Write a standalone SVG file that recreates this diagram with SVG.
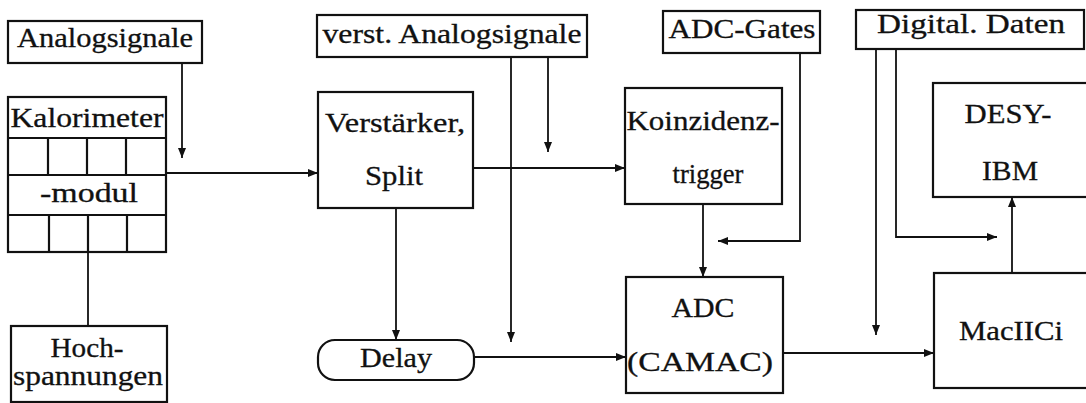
<svg xmlns="http://www.w3.org/2000/svg" width="1086" height="403" viewBox="0 0 1086 403">
<style>
.box{fill:#fff;stroke:#111;stroke-width:2.2}
.grid{fill:none;stroke:#111;stroke-width:2.2}
.c{fill:none;stroke:#111;stroke-width:1.8}
.t{font-family:"Liberation Serif","DejaVu Serif",serif;font-size:27px;fill:#111;text-anchor:middle;stroke:#111;stroke-width:0.3}
</style>
<defs>
<marker id="ah" markerUnits="userSpaceOnUse" markerWidth="12" markerHeight="9" refX="10" refY="4" orient="auto">
<path d="M0,0 L10,4 L0,8 z" fill="#111"/>
</marker>
</defs>
<rect width="1086" height="403" fill="#fff"/>
<g id="connectors">
<path class="c" d="M182,63 V158" marker-end="url(#ah)"/>
<path class="c" d="M166,173 H318" marker-end="url(#ah)"/>
<path class="c" d="M88,252 V326"/>
<path class="c" d="M511,57 V342" marker-end="url(#ah)"/>
<path class="c" d="M548,57 V152" marker-end="url(#ah)"/>
<path class="c" d="M473,168 H625" marker-end="url(#ah)"/>
<path class="c" d="M396,208 V340" marker-end="url(#ah)"/>
<path class="c" d="M474,357 H626" marker-end="url(#ah)"/>
<path class="c" d="M800,53 V241 H718" marker-end="url(#ah)"/>
<path class="c" d="M703,204 V277" marker-end="url(#ah)"/>
<path class="c" d="M783,353 H934" marker-end="url(#ah)"/>
<path class="c" d="M876,49 V335" marker-end="url(#ah)"/>
<path class="c" d="M896,49 V237 H997" marker-end="url(#ah)"/>
<path class="c" d="M1012,273 V197" marker-end="url(#ah)"/>
</g>
<g id="analogsignale">
<rect class="box" x="8" y="21" width="194" height="42"/>
<text class="t" x="105" y="47" textLength="176" lengthAdjust="spacingAndGlyphs">Analogsignale</text>
</g>
<g id="kalorimeter">
<rect class="box" x="8" y="97" width="158" height="155"/>
<path class="grid" d="M8,138 H166 M8,175 H166 M8,215 H166 M48,138 V175 M87,138 V175 M126,138 V175 M49,215 V252 M88,215 V252 M127,215 V252"/>
<text class="t" x="87" y="127" textLength="153" lengthAdjust="spacingAndGlyphs">Kalorimeter</text>
<text class="t" x="89" y="202" textLength="98" lengthAdjust="spacingAndGlyphs">-modul</text>
</g>
<g id="hochspannungen">
<rect class="box" x="11" y="326" width="156" height="76"/>
<text class="t" x="87" y="357" textLength="73" lengthAdjust="spacingAndGlyphs">Hoch-</text>
<text class="t" x="88" y="385" textLength="150" lengthAdjust="spacingAndGlyphs">spannungen</text>
</g>
<g id="verst-analogsignale">
<rect class="box" x="317" y="15" width="270" height="42"/>
<text class="t" x="452" y="43" textLength="259" lengthAdjust="spacingAndGlyphs">verst. Analogsignale</text>
</g>
<g id="verstaerker">
<rect class="box" x="318" y="92" width="155" height="116"/>
<text class="t" x="395" y="132" textLength="140" lengthAdjust="spacingAndGlyphs">Verstärker,</text>
<text class="t" x="394" y="185" textLength="58" lengthAdjust="spacingAndGlyphs">Split</text>
</g>
<g id="delay">
<rect class="box" x="318" y="340" width="156" height="40" rx="17" ry="17"/>
<text class="t" x="396" y="367" textLength="72" lengthAdjust="spacingAndGlyphs">Delay</text>
</g>
<g id="adc-gates">
<rect class="box" x="663" y="11" width="157" height="42"/>
<text class="t" x="742" y="38" textLength="147" lengthAdjust="spacingAndGlyphs">ADC-Gates</text>
</g>
<g id="koinzidenztrigger">
<rect class="box" x="625" y="88" width="157" height="116"/>
<text class="t" x="703" y="130" textLength="153" lengthAdjust="spacingAndGlyphs">Koinzidenz-</text>
<text class="t" x="708" y="183" textLength="71" lengthAdjust="spacingAndGlyphs">trigger</text>
</g>
<g id="adc-camac">
<rect class="box" x="626" y="277" width="157" height="116"/>
<text class="t" x="703" y="317" textLength="63" lengthAdjust="spacingAndGlyphs">ADC</text>
<text class="t" x="700" y="371" textLength="146" lengthAdjust="spacingAndGlyphs">(CAMAC)</text>
</g>
<g id="digital-daten">
<rect class="box" x="856" y="10" width="228" height="39"/>
<text class="t" x="971" y="33" textLength="188" lengthAdjust="spacingAndGlyphs">Digital. Daten</text>
</g>
<g id="desy-ibm">
<rect class="box" x="933" y="83" width="170" height="114"/>
<text class="t" x="1008" y="123" textLength="87" lengthAdjust="spacingAndGlyphs">DESY-</text>
<text class="t" x="1010" y="180" textLength="56" lengthAdjust="spacingAndGlyphs">IBM</text>
</g>
<g id="maciici">
<rect class="box" x="934" y="273" width="170" height="115"/>
<text class="t" x="1011" y="340" textLength="104" lengthAdjust="spacingAndGlyphs">MacIICi</text>
</g>
</svg>
